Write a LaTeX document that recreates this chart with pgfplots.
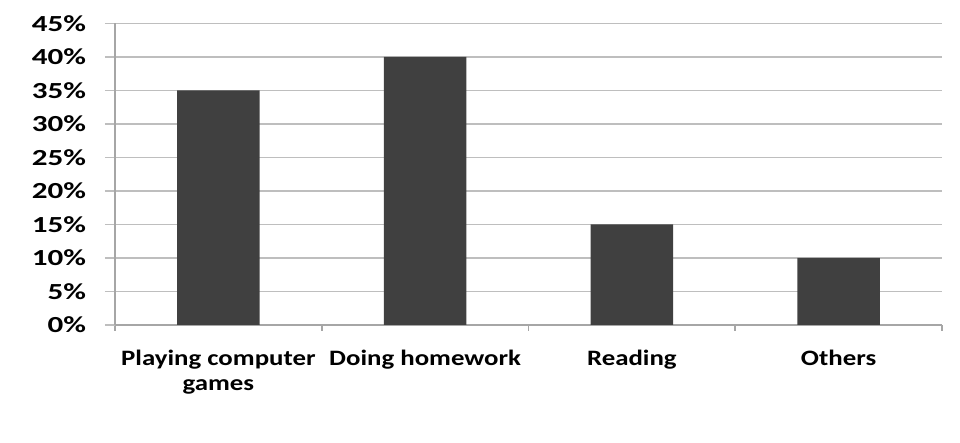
\documentclass[border=0pt]{standalone}
\usepackage{fontspec}
\setmainfont{Carlito}[FakeStretch=1.22]
\newfontfamily\ylabfont{Carlito}[FakeStretch=1.35]
\usepackage{pgfplots}
\pgfplotsset{compat=1.18}
\definecolor{barfill}{HTML}{404040}
\definecolor{gridc}{HTML}{BEBEBE}
\definecolor{axisc}{HTML}{A6A6A6}
\begin{document}
\begin{tikzpicture}
\path[use as bounding box] (-57.5pt,-59pt) rectangle (422.5pt,162.5pt);
\begin{axis}[
    at={(0,0)}, anchor=south west,
    scale only axis,
    width=413.5pt, height=150.75pt,
    ybar, bar width=0.4,
    xmin=-0.5, xmax=3.5,
    ymin=0, ymax=45,
    ytick={0,5,...,45},
    yticklabel={\pgfmathprintnumber{\tick}\%},
    /pgf/number format/assume math mode=true,
    xtick={0,1,2,3},
    xticklabels={Playing computer\\games,Doing homework,Reading,Others},
    minor xtick={-0.5,0.5,1.5,2.5,3.5},
    major x tick style={draw=none},
    minor x tick style={axisc, line width=0.8pt},
    minor tick length=3pt,
    y tick style={gridc, line width=0.8pt},
    major tick length=5pt,
    tick align=outside,
    ymajorgrids,
    major grid style={gridc, line width=0.8pt},
    axis x line*=bottom,
    axis y line*=left,
    axis line style={axisc, line width=0.8pt, -},
    xticklabel style={font=\bfseries\fontsize{11}{12.5}\selectfont, align=center, yshift=-4pt},
    yticklabel style={font=\ylabfont\bfseries\fontsize{11.5}{12}\selectfont, xshift=-6pt},
]
\addplot[fill=barfill, draw=none] coordinates {(0,35) (1,40) (2,15) (3,10)};
\end{axis}
\end{tikzpicture}
\end{document}
